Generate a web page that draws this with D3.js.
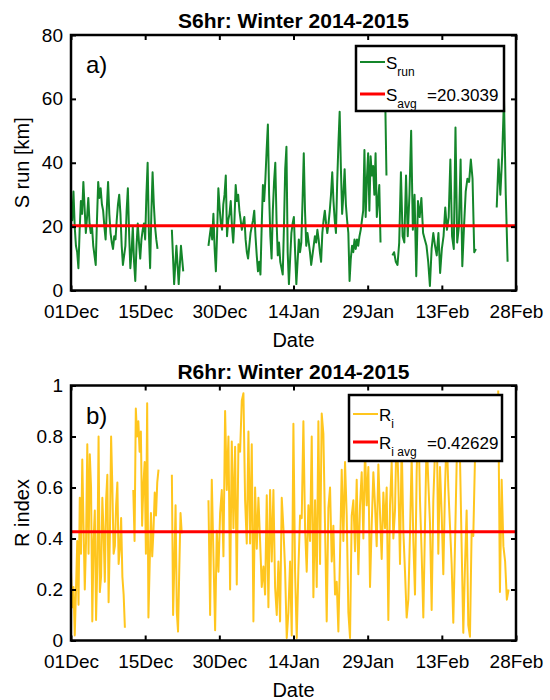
<!DOCTYPE html>
<html lang="en">

<head>
    <meta charset="UTF-8">
    <title>S6hr / R6hr winter 2014-2015</title>
    <script src="https://d3js.org/d3.v7.min.js"></script>
    <style>
        body { margin: 0; background: #fff; }
        svg { display: block; }
        text { font-family: "Liberation Sans", Arial, sans-serif; fill: #000; }
    </style>
</head>

<body>
    <div id="chart"></div>

    <script type="text/javascript">

        // date axis: day 0 .. 90, a tick every 15 days
        var dateTicks = [0, 15, 30, 45, 60, 75, 90];
        var dateLabels = ["01Dec", "15Dec", "30Dec", "14Jan", "29Jan", "13Feb", "28Feb"];

        // S run [km] - pieces of record between the data gaps (start day, end day, values)
        var sStart = [0, 20.4, 27.8, 63.5, 65.0, 86.1];
        var sEnd = [17.5, 22.7, 62.6, 63.8, 81.9, 88.3];
        var sSeg1 = [25, 22, 31, 20, 14, 12, 7, 19, 28, 24,
            34, 26, 18, 23, 29, 21, 18, 20, 14, 11,
            8, 22, 34, 29, 32, 27, 25, 20, 16, 26,
            34, 24, 18, 15, 13, 17, 16, 22, 27, 30,
            24, 14, 8, 11, 14, 25, 32, 18, 7, 12,
            20, 9, 3, 14, 21, 15, 10, 16, 19, 21,
            16, 30, 40, 18, 7, 24, 37, 27, 20, 16, 13];
        var sSeg2 = [19, 2, 14, 2, 14, 6];
        var sSeg3 = [14, 17, 20, 16, 24, 13, 6, 18, 32,
            26, 21, 19, 27, 30, 36, 17, 22, 24, 28,
            20, 15, 22, 33, 28, 30, 25, 22, 19, 21,
            23, 16, 12, 10, 14, 18, 20, 22, 25, 17,
            11, 6, 9, 5, 20, 33, 28, 35, 44, 52,
            30, 17, 10, 25, 34, 40, 22, 11, 15, 9,
            7, 5, 20, 38, 45, 12, 2, 10, 18, 21,
            23, 12, 2, 9, 16, 12, 15, 28, 43, 25,
            14, 18, 15, 12, 8, 11, 14, 17, 15, 19,
            16, 12, 9, 18, 22, 25, 21, 18, 21, 25,
            30, 37, 28, 22, 18, 34, 46, 56, 38, 24,
            30, 38, 27, 22, 18, 3, 10, 14, 12, 16,
            13, 16, 14, 17, 19, 22, 25, 44, 23, 35,
            43, 25, 42, 36, 39, 30, 43, 23, 28, 33, 15];
        var sSeg4 = [65, 36];
        var sSeg5 = [11, 12, 9, 8, 15, 37, 17, 15, 36, 17,
            30, 50, 19, 30, 4.5, 28, 23, 29, 18, 16,
            14, 9, 1.4, 13, 18, 14, 11, 18, 5.5, 13,
            17, 26, 19, 23, 41, 17, 13, 51, 15, 20,
            41, 7.6, 20, 31, 35, 34, 41, 35, 12, 13];
        var sSeg6 = [26, 41, 30, 42, 60, 30, 9];
        var sAvg = 20.3039;
        var sTicks = [0, 20, 40, 60, 80];

        // R index
        var rStart = [0, 12.6, 20.4, 27.8, 86.4];
        var rEnd = [10.9, 17.7, 22.4, 81.7, 88.5];
        var rSeg1 = [0.27, 0.13, 0.21, 0.02, 0.2, 0.39, 0.14, 0.56, 0.34, 0.71,
            0.45, 0.20, 0.39, 0.77, 0.34, 0.73, 0.6, 0.075, 0.39, 0.51,
            0.08, 0.3, 0.8, 0.19, 0.25, 0.56, 0.42, 0.23, 0.55, 0.65,
            0.15, 0.4, 0.8, 0.6, 0.34, 0.37, 0.53, 0.62, 0.30, 0.36,
            0.48, 0.25, 0.18, 0.05];
        var rSeg2 = [0.59, 0.39, 0.91, 0.8, 0.86, 0.74, 0.82, 0.45, 0.61, 0.7,
            0.34, 0.93, 0.09, 0.3, 0.5, 0.33, 0.43, 0.58, 0.49, 0.62, 0.67];
        var rSeg3 = [0.65, 0.1, 0.3, 0.53, 0.11, 0.035, 0.28, 0.5, 0.42];
        var rSeg4 = [0.55, 0.1, 0.63, 0.33, 0.04,
            0.43, 0.27, 0.5, 0.59, 0.33, 0.9, 0.59, 0.8, 0.2, 0.78,
            0.44, 0.76, 0.22, 0.77, 0.74, 0.94, 0.97, 0.55, 0.38, 0.82,
            0.38, 0.77, 0.075, 0.6, 0.36, 0.56, 0.39, 0.21, 0.29, 0.18,
            0.57, 0.13, 0.59, 0.31, 0.59, 0.21, 0.1, 0.31, 0.075, 0.56,
            0.44, 0.28, 0.01, 0.11, 0.31, 0.02, 0.85, 0.27, 0.01, 0.28,
            0.49, 0.48, 0.86, 0.44, 0.27, 0.53, 0.39, 0.8, 0.17, 0.55,
            0.21, 0.86, 0.3, 0.89, 0.81, 0.44, 0.075, 0.52, 0.6, 0.31,
            0.45, 0.18, 0.23, 0.035, 0.34, 0.67, 0.39, 0.7, 0.49, 0.11,
            0.01, 0.49,
            0.55, 0.35, 0.63, 0.26, 0.53, 0.66, 0.4, 0.75, 0.53, 0.68,
            0.21, 0.45, 0.66, 0.53, 0.37, 0.69, 0.5, 0.32, 0.58, 0.44,
            0.6, 0.08, 0.53, 0.7, 0.4, 0.51, 0.85, 0.62, 0.3, 0.78,
            0.43, 0.27, 0.09, 0.16, 0.42, 0.72, 0.39, 0.18, 0.66, 0.9,
            0.55, 0.34, 0.09, 0.45, 0.8, 0.62, 0.46, 0.12, 0.55, 0.74,
            0.88, 0.34, 0.68, 0.5, 0.26, 0.59, 0.82, 0.6, 0.45, 0.3,
            0.07, 0.37, 0.69, 0.86, 0.72, 0.37, 0.03, 0.29, 0.51, 0.06,
            0.015, 0.43, 0.41, 0.71];
        var rSeg5 = [0.98, 0.19, 0.63, 0.37, 0.31, 0.16, 0.2];
        var rAvg = 0.42629;
        var rTicks = [0, 0.2, 0.4, 0.6, 0.8, 1];
        var rTickLabels = ["0", "0.2", "0.4", "0.6", "0.8", "1"];

        // turn the pieces into one point list, null marks a gap
        function toPoints(starts, ends, segs) {
            var pts = [];
            segs.forEach(function (vals, k) {
                var step = vals.length > 1 ? (ends[k] - starts[k]) / (vals.length - 1) : 0;
                vals.forEach(function (v, i) {
                    pts.push({ day: starts[k] + i * step, v: v });
                });
                pts.push(null);
            });
            return pts;
        }

        var svg = d3.select("#chart")
            .append("svg")
            .attr("width", 550)
            .attr("height", 700);

        var left = 71, right = 516;
        var x = d3.scaleLinear().domain([0, 90]).range([left, right]);

        function drawPanel(p) {
            var y = d3.scaleLinear().domain(p.yDomain).range([p.bottom, p.top]);
            var g = svg.append("g");

            // title
            g.append("text")
                .attr("x", (left + right) / 2)
                .attr("y", p.top - 7)
                .attr("text-anchor", "middle")
                .style("font-size", "21px")
                .style("font-weight", "bold")
                .text(p.title);

            // data line
            var line = d3.line()
                .defined(function (d) { return d !== null; })
                .x(function (d) { return x(d.day); })
                .y(function (d) { return y(d.v); });

            g.append("path")
                .datum(p.points)
                .attr("fill", "none")
                .attr("stroke", p.color)
                .attr("stroke-width", 2)
                .attr("stroke-linejoin", "round")
                .attr("d", line);

            // average
            g.append("line")
                .attr("x1", left).attr("x2", right)
                .attr("y1", y(p.avg)).attr("y2", y(p.avg))
                .attr("stroke", "#ff0000")
                .attr("stroke-width", 3);

            // axes, ticks inward like the original
            g.append("g")
                .attr("transform", "translate(0," + p.bottom + ")")
                .call(d3.axisBottom(x).tickValues(dateTicks)
                    .tickFormat(function (d, i) { return dateLabels[i]; })
                    .tickSizeInner(-5).tickSizeOuter(0).tickPadding(14));
            g.append("g")
                .attr("transform", "translate(0," + p.top + ")")
                .call(d3.axisTop(x).tickValues(dateTicks).tickFormat("")
                    .tickSizeInner(-5).tickSizeOuter(0));
            g.append("g")
                .attr("transform", "translate(" + left + ",0)")
                .call(d3.axisLeft(y).tickValues(p.yTicks)
                    .tickFormat(function (d, i) { return p.yLabels[i]; })
                    .tickSizeInner(-5).tickSizeOuter(0).tickPadding(8));
            g.append("g")
                .attr("transform", "translate(" + right + ",0)")
                .call(d3.axisRight(y).tickValues(p.yTicks).tickFormat("")
                    .tickSizeInner(-5).tickSizeOuter(0));

            g.selectAll(".domain").remove();
            g.selectAll(".tick line").attr("stroke", "#000").attr("stroke-width", 2);
            g.selectAll(".tick text")
                .style("font-size", "19px")
                .style("font-family", "'Liberation Sans', Arial, sans-serif")
                .attr("fill", "#000");

            // frame
            g.append("rect")
                .attr("x", left).attr("y", p.top)
                .attr("width", right - left).attr("height", p.bottom - p.top)
                .attr("fill", "none")
                .attr("stroke", "#000")
                .attr("stroke-width", 2.5);

            // axis labels
            g.append("text")
                .attr("x", (left + right) / 2)
                .attr("y", p.bottom + 56)
                .attr("text-anchor", "middle")
                .style("font-size", "20px")
                .text("Date");
            g.append("text")
                .attr("transform", "translate(29," + (p.top + p.bottom) / 2 + ") rotate(-90)")
                .attr("text-anchor", "middle")
                .style("font-size", "20px")
                .text(p.yTitle);

            // panel letter
            g.append("text")
                .attr("x", 86)
                .attr("y", p.top + 38)
                .style("font-size", "24px")
                .text(p.letter);

            // legend
            var lg = p.legend;
            g.append("rect")
                .attr("x", lg.x).attr("y", lg.y)
                .attr("width", lg.w).attr("height", lg.h)
                .attr("fill", "#fff")
                .attr("stroke", "#000")
                .attr("stroke-width", 2.5);

            var rows = [
                { color: p.color, width: 2, dy: lg.row1, sub: lg.sub1, rest: "" },
                { color: "#ff0000", width: 3, dy: lg.row2, sub: lg.sub2, rest: lg.avgText }
            ];
            rows.forEach(function (r) {
                g.append("line")
                    .attr("x1", lg.x + 4).attr("x2", lg.x + 29)
                    .attr("y1", lg.y + r.dy).attr("y2", lg.y + r.dy)
                    .attr("stroke", r.color)
                    .attr("stroke-width", r.width);
                var t = g.append("text")
                    .attr("x", lg.x + 30)
                    .attr("y", lg.y + r.dy + 6.5)
                    .style("font-size", "17px");
                t.append("tspan").text(lg.letter);
                t.append("tspan")
                    .attr("dy", 7)
                    .style("font-size", "12px")
                    .text(r.sub);
                if (r.rest) {
                    t.append("tspan")
                        .attr("x", lg.avgX)
                        .attr("dy", -7)
                        .text(r.rest);
                }
            });
        }

        drawPanel({
            top: 35, bottom: 290.5,
            title: "S6hr: Winter 2014-2015",
            letter: "a)",
            yDomain: [0, 80], yTicks: sTicks, yLabels: sTicks.map(String),
            yTitle: "S run [km]",
            color: "#14862a",
            avg: sAvg,
            points: toPoints(sStart, sEnd, [sSeg1, sSeg2, sSeg3, sSeg4, sSeg5, sSeg6]),
            legend: { x: 356, y: 46, w: 148, h: 65, row1: 16, row2: 48, letter: "S",
                sub1: "run", sub2: "avg", avgText: "=20.3039", avgX: 427 }
        });

        drawPanel({
            top: 385.5, bottom: 640.5,
            title: "R6hr: Winter 2014-2015",
            letter: "b)",
            yDomain: [0, 1], yTicks: rTicks, yLabels: rTickLabels,
            yTitle: "R index",
            color: "#ffc61e",
            avg: rAvg,
            points: toPoints(rStart, rEnd, [rSeg1, rSeg2, rSeg3, rSeg4, rSeg5]),
            legend: { x: 349, y: 395, w: 153, h: 66, row1: 19, row2: 47, letter: "R",
                sub1: "i", sub2: "i avg", avgText: "=0.42629", avgX: 427 }
        });

    </script>

</body>

</html>
